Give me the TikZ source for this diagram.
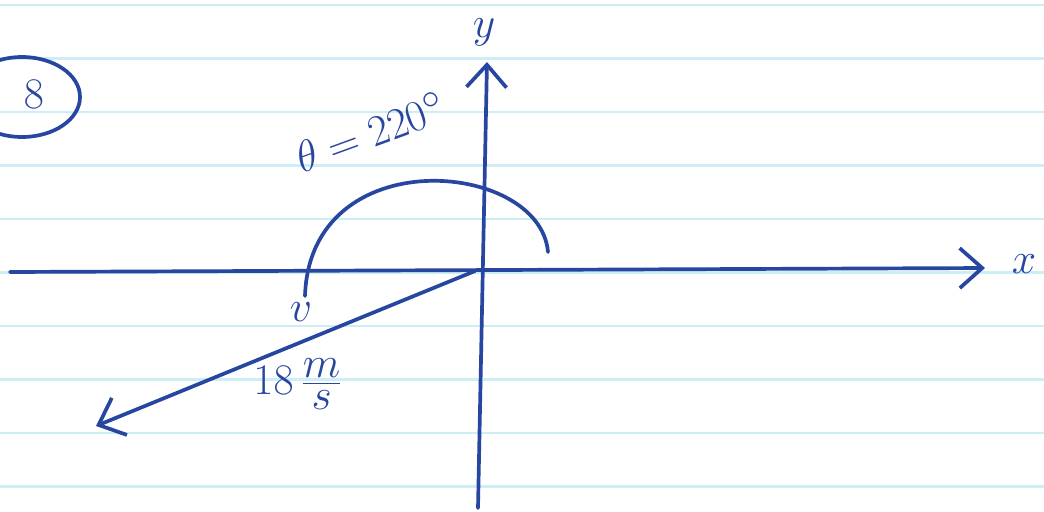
\documentclass[tikz,border=0pt]{standalone}
\usepackage{amsmath}
\usetikzlibrary{arrows.meta,positioning}
\definecolor{InkBlue}{RGB}{38,70,160}
\definecolor{RuleCyan}{RGB}{205,238,245}

\begin{document}
\begin{tikzpicture}[x=0.02cm,y=-0.02cm,>={Straight Barb[length=0.45cm,width=0.8cm]},
    pen/.style={InkBlue,line width=2.1pt,line cap=round},
    ink/.style={text=InkBlue,font=\fontsize{#1}{#1}\selectfont}]
      \useasboundingbox (0,0) rectangle (1044,511);
      \clip (0,0) rectangle (1044,511);
      \fill[white] (0,0) rectangle (1044,511);
      % ruled paper
      \foreach \ry in {5,58.5,112,165.5,219,272.5,326,379.5,433,486.5}
        \draw[RuleCyan,line width=1.2pt] (0,\ry)--(1044,\ry);
      % axes
      \coordinate (O) at (475,271);
      \coordinate (xstart) at (10,272);
      \coordinate (xend) at (985,268);
      \coordinate (ybot) at (478,508);
      \coordinate (ytop) at (487,62);
      \coordinate (vtip) at (96,426);
      \draw[pen,->] (xstart)--(xend);
      \draw[pen,->] (ybot)--(ytop);
      \node[ink=40] (xlab) at (1024,264) {$x$};
      \node[ink=40] (ylab) at (484,32) {$y$};
      % velocity vector
      \draw[pen,->] (O)--(vtip);
      \node[ink=34] (vlab) at (301,312) {$v$};
      \node[ink=38] (mag) at (298,384) {$18\,\frac{m}{s}$};
      % angle
      \coordinate (arcA) at (548,252);
      \coordinate (arcB) at (305,296);
      \draw[pen] (arcA) .. controls (540,160) and (310,140) .. (arcB);
      \node[ink=28,rotate=20] (theta) at (370,132) {$\theta=220^\circ$};
      % problem number
      \draw[pen] (22,97) ellipse (58 and 40);
      \node[ink=28] (num) at (34,94) {$8$};
    \end{tikzpicture}
\end{document}
